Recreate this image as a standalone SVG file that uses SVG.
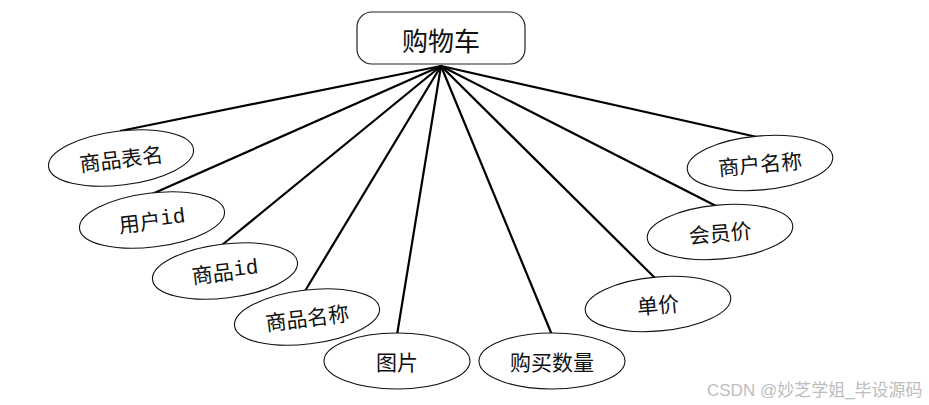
<svg xmlns="http://www.w3.org/2000/svg" width="929" height="405" viewBox="0 0 929 405">
<style>
.box{fill:#fff;stroke:#222;stroke-width:1.2}
.ell{fill:#fff;stroke:#111;stroke-width:1.1}
.lbl{font-family:"Noto Sans CJK SC","Liberation Serif",serif;font-size:21px;fill:#111;text-anchor:middle;dominant-baseline:central}
.mono{font-family:"Liberation Mono","Noto Sans CJK SC",monospace}
.conn line{stroke:#000;stroke-width:2.2}
.wm{font-family:"Liberation Sans","Noto Sans CJK SC",sans-serif;font-size:17px;fill:#bdbdbd}
</style>
<rect width="929" height="405" fill="#fff"/>
<g class="conn" id="connectors">
<line x1="441" y1="66" x2="120" y2="131"/>
<line x1="441" y1="66" x2="152" y2="194"/>
<line x1="441" y1="66" x2="222" y2="245"/>
<line x1="441" y1="66" x2="305" y2="291"/>
<line x1="441" y1="66" x2="397" y2="335"/>
<line x1="441" y1="66" x2="552" y2="335"/>
<line x1="441" y1="66" x2="655" y2="278"/>
<line x1="441" y1="66" x2="718" y2="207"/>
<line x1="441" y1="66" x2="757" y2="137"/>
</g>
<g id="cart">
<rect class="box" x="357" y="12" width="168" height="52" rx="15"/>
<text class="lbl" x="441" y="39" style="font-size:26px">购物车</text>
</g>
<g id="n1" transform="rotate(-7 121 158)">
<ellipse class="ell" cx="121" cy="158" rx="73" ry="27"/>
<text class="lbl" x="121" y="158">商品表名</text>
</g>
<g id="n2" transform="rotate(-7 152 220)">
<ellipse class="ell" cx="152" cy="220" rx="73" ry="27"/>
<text class="lbl" x="152" y="220">用户<tspan class="mono">id</tspan></text>
</g>
<g id="n3" transform="rotate(-7 225 271)">
<ellipse class="ell" cx="225" cy="271" rx="73" ry="27"/>
<text class="lbl" x="225" y="271">商品<tspan class="mono">id</tspan></text>
</g>
<g id="n4" transform="rotate(-7 307 317)">
<ellipse class="ell" cx="307" cy="317" rx="73" ry="27"/>
<text class="lbl" x="307" y="317">商品名称</text>
</g>
<g id="n5">
<ellipse class="ell" cx="397" cy="361" rx="73" ry="28"/>
<text class="lbl" x="397" y="361">图片</text>
</g>
<g id="n6">
<ellipse class="ell" cx="552" cy="361" rx="73" ry="28"/>
<text class="lbl" x="552" y="361">购买数量</text>
</g>
<g id="n7" transform="rotate(-5 658 304)">
<ellipse class="ell" cx="658" cy="304" rx="73" ry="27"/>
<text class="lbl" x="658" y="304">单价</text>
</g>
<g id="n8" transform="rotate(-5 720 232)">
<ellipse class="ell" cx="720" cy="232" rx="73" ry="27"/>
<text class="lbl" x="720" y="232">会员价</text>
</g>
<g id="n9" transform="rotate(-5 760 163)">
<ellipse class="ell" cx="760" cy="163" rx="73" ry="27"/>
<text class="lbl" x="760" y="163">商户名称</text>
</g>
<text class="wm" x="707" y="396">CSDN @妙芝学姐_毕设源码</text>
</svg>
